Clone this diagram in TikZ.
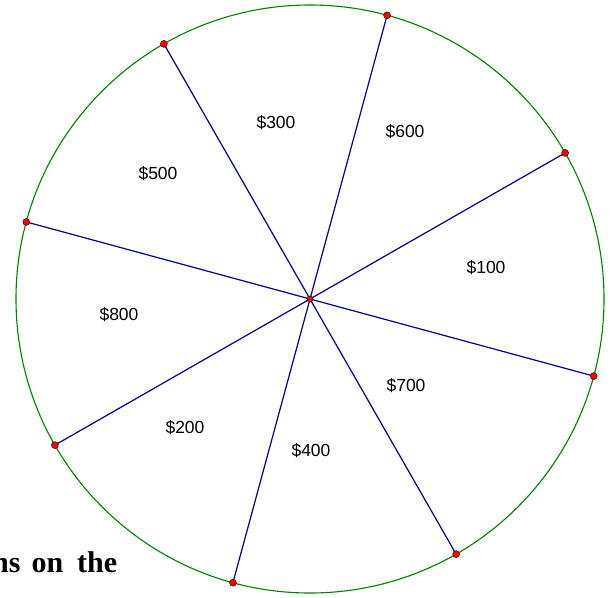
\documentclass[tikz,border=0pt]{standalone}
\usepackage{fontspec}
\setmainfont{Liberation Sans}
\newfontfamily\boldserif{Liberation Serif}
\usetikzlibrary{calc}
\definecolor{circgreen}{RGB}{0,128,0}
\definecolor{spokeblue}{RGB}{0,0,140}
\begin{document}
\begin{tikzpicture}[x=1pt,y=-1pt,
  rim/.style={draw=circgreen,line width=1.1pt},
  spoke/.style={draw=spokeblue,line width=1.2pt},
  dot/.style={circle,fill=red,draw=black,line width=0.4pt,inner sep=0pt,minimum size=7pt},
  prize/.style={font=\fontsize{17.5}{20}\selectfont,text=black,inner sep=0pt},
  heading/.style={font=\boldserif\bfseries\fontsize{30}{34}\selectfont,inner sep=0pt,anchor=base west}]
\useasboundingbox (0,0) rectangle (610,597);
\coordinate (c) at (310,299);
\draw[rim] (c) circle (294);
\foreach \i in {0,...,7}{
  \coordinate (p\i) at ($(c)+({-74.8+45*\i}:294)$);
}
\foreach \i in {0,...,7}{
  \draw[spoke] (c) -- (p\i);
}
\foreach \i in {0,...,7}{
  \node[dot] (d\i) at (p\i) {};
}
\node[dot,minimum size=6pt] (center) at (c) {};
\node[prize] (l300) at (276,123) {\$300};
\node[prize] (l600) at (405,132) {\$600};
\node[prize] (l500) at (158,174) {\$500};
\node[prize] (l100) at (486,268) {\$100};
\node[prize] (l800) at (119,315) {\$800};
\node[prize] (l700) at (406,386) {\$700};
\node[prize] (l200) at (185,428) {\$200};
\node[prize] (l400) at (311,451) {\$400};
\node[heading] (txt) at (-8,572) {ns\hspace{11pt}on\hspace{14pt}the};
\end{tikzpicture}
\end{document}
